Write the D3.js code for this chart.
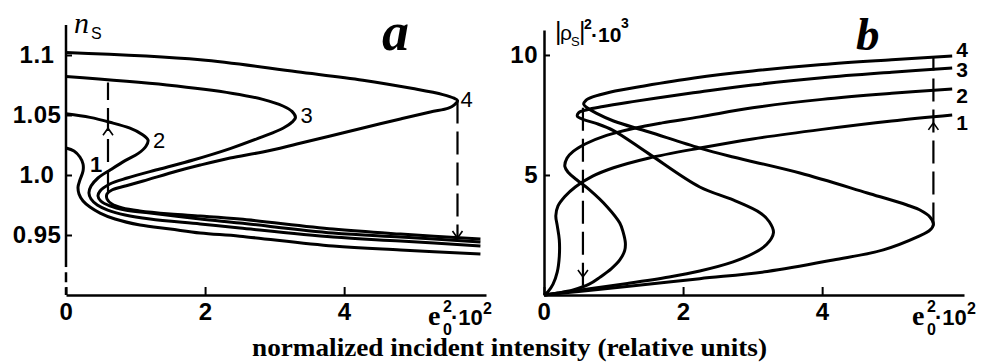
<!DOCTYPE html>
<html>
<head>
<meta charset="utf-8">
<script src="https://cdnjs.cloudflare.com/ajax/libs/d3/7.8.5/d3.min.js"></script>
<style>
body { margin: 0; background: #fff; }
svg { display: block; }
.tick text { font-family: "Liberation Sans", Arial, sans-serif; font-weight: bold; font-size: 24px; letter-spacing: 0.5px; fill: #000; }
</style>
</head>
<body>
<svg width="994" height="362"></svg>
<script>
// ---- data ----
var xTicks = [0, 2, 4];
var yTicksA = [0.95, 1.0, 1.05, 1.1];
var yTickLabelsA = ["0.95", "1.0", "1.05", "1.1"];
var yTicksB = [5, 10];
var curveNames = ["1", "2", "3", "4"];

// panel a: n_S versus e0^2*10^2, each curve traced along its S shape
var curveA1 = [[0,1.0225],[0.115,1.02],[0.2,1.015],[0.245,1.0092],[0.245,1.0033],[0.2,0.9958],[0.173,0.99],[0.187,0.9842],[0.245,0.9783],[0.345,0.9733],[0.49,0.9683],[0.705,0.9633],[1.065,0.9583],[1.5,0.955],[1.93,0.9517],[2.5,0.949],[3.84,0.9408],[4.81,0.9375],[5.96,0.9342]];
var curveA2 = [[0,1.051],[0.345,1.048],[0.63,1.044],[0.92,1.039],[1.09,1.034],[1.18,1.029],[1.15,1.024],[1.04,1.018],[0.85,1.012],[0.63,1.004],[0.46,0.9975],[0.36,0.9908],[0.33,0.985],[0.36,0.98],[0.45,0.975],[0.6,0.9708],[0.85,0.9667],[1.21,0.9633],[1.93,0.9592],[2.5,0.9558],[3.84,0.9483],[4.81,0.945],[5.96,0.9408]];
var curveA3 = [[0,1.082],[1.45,1.075],[2.4,1.068],[2.83,1.063],[3.12,1.0575],[3.25,1.053],[3.3,1.048],[3.25,1.044],[3.12,1.039],[2.83,1.032],[2.36,1.022],[1.83,1.0125],[1.35,1.005],[0.88,0.9975],[0.63,0.9925],[0.49,0.9867],[0.46,0.9825],[0.5,0.9783],[0.63,0.9742],[0.85,0.9708],[1.21,0.9683],[1.93,0.9633],[2.5,0.96],[3.84,0.9517],[4.81,0.9483],[5.96,0.9442]];
var curveA4 = [[0,1.102],[1.93,1.096],[3.32,1.086],[4.27,1.079],[4.99,1.072],[5.42,1.067],[5.58,1.064],[5.63,1.062],[5.58,1.0583],[5.5,1.0558],[5.24,1.0525],[4.81,1.0467],[4.27,1.0392],[3.8,1.0325],[3.32,1.0258],[2.83,1.0192],[2.36,1.0142],[1.93,1.0083],[1.6,1.0033],[1.11,0.995],[0.85,0.9908],[0.66,0.9875],[0.59,0.9842],[0.59,0.98],[0.66,0.9758],[0.81,0.9725],[1.06,0.97],[1.5,0.9675],[1.93,0.9658],[2.5,0.9633],[3.84,0.955],[4.81,0.9508],[5.96,0.9467]];

// panel b: |rho_S|^2*10^3 versus e0^2*10^2
var curveB1 = [[0,0],[0.06,0.15],[0.13,0.45],[0.19,0.95],[0.22,1.6],[0.22,2.3],[0.19,2.9],[0.17,3.3],[0.2,3.7],[0.3,4.1],[0.45,4.5],[0.7,4.95],[1.0,5.3],[1.5,5.7],[2.24,6.12],[3,6.5],[4,6.9],[5,7.25],[5.87,7.5]];
var curveB2 = [[0,0],[0.2,0.08],[0.42,0.21],[0.65,0.45],[0.81,0.75],[0.97,1.1],[1.09,1.46],[1.16,1.85],[1.17,2.17],[1.14,2.6],[1.09,3.0],[0.91,3.67],[0.66,4.37],[0.47,4.8],[0.35,5.1],[0.3,5.35],[0.33,5.7],[0.42,5.98],[0.6,6.3],[0.9,6.65],[1.3,6.95],[1.7,7.17],[2.24,7.42],[3,7.8],[4,8.15],[5,8.4],[5.87,8.58]];
var curveB3 = [[0,0],[0.5,0.2],[1.2,0.48],[1.8,0.75],[2.24,1.0],[2.72,1.38],[3.0,1.72],[3.2,2.1],[3.3,2.6],[3.24,3.05],[3.11,3.42],[2.72,3.96],[2.24,4.5],[1.5,5.9],[1.0,6.85],[0.75,7.15],[0.58,7.3],[0.48,7.45],[0.5,7.6],[0.62,7.72],[0.85,7.85],[1.2,8.02],[1.6,8.2],[2.24,8.46],[3,8.75],[4,9.05],[5,9.28],[5.87,9.46]];
var curveB4 = [[0,0],[0.5,0.15],[1.19,0.35],[2.24,0.68],[3.21,0.98],[4.16,1.46],[4.88,1.88],[5.37,2.42],[5.55,2.7],[5.6,2.95],[5.55,3.25],[5.4,3.55],[5.22,3.75],[4.65,4.25],[3.68,5.08],[2.72,5.75],[2.24,6.12],[1.5,6.8],[1.0,7.25],[0.75,7.58],[0.62,7.8],[0.57,7.95],[0.6,8.1],[0.7,8.25],[0.96,8.46],[1.44,8.71],[2.16,9.04],[3,9.33],[4,9.6],[5,9.8],[5.87,9.96]];

// switching jumps (dashed): x, from y, to y, arrow tip y
var jumpsA = [[0.604, 0.985, 1.077, 1.039], [5.63, 1.062, 0.947, 0.9475]];
var jumpsB = [[0.56, 7.8, 0.35, 0.75], [5.6, 2.9, 9.96, 7.17]];

// ---- drawing ----
var svg = d3.select("svg");

var xA = d3.scaleLinear().domain([0, 6.04]).range([66, 486]);
var yA = d3.scaleLinear().domain([0.9, 1.125]).range([295, 25]);
var xB = d3.scaleLinear().domain([0, 6.04]).range([544, 964]);
var yB = d3.scaleLinear().domain([0, 11.04]).range([295, 30]);

function styleAxis(g) {
    g.selectAll(".domain").attr("stroke", "#000").attr("stroke-width", 2.5);
    g.selectAll(".tick line").attr("stroke", "#000").attr("stroke-width", 2);
}

// panel a axes
var gxA = svg.append("g")
    .attr("transform", "translate(0," + yA(0.9) + ")")
    .call(d3.axisBottom(xA).tickValues(xTicks).tickSizeInner(-8).tickSizeOuter(0).tickPadding(8).tickFormat(d3.format("d")));
styleAxis(gxA);

var gyA = svg.append("g")
    .attr("transform", "translate(" + xA(0) + ",0)")
    .call(d3.axisLeft(yA).tickValues(yTicksA).tickSizeInner(-6).tickSizeOuter(0)
        .tickFormat(function(d, i) { return yTickLabelsA[i]; }));
styleAxis(gyA);
gyA.select(".domain").remove();
gyA.selectAll(".tick text").attr("x", -29).attr("text-anchor", "middle");

svg.append("line")
    .attr("x1", xA(0)).attr("x2", xA(0))
    .attr("y1", yA(1.125)).attr("y2", yA(0.9233))
    .attr("stroke", "#000").attr("stroke-width", 2.5);
svg.append("line")
    .attr("x1", xA(0)).attr("x2", xA(0))
    .attr("y1", yA(0.919)).attr("y2", yA(0.9))
    .attr("stroke", "#000").attr("stroke-width", 2.5)
    .attr("stroke-dasharray", "10,5");

// panel b axes
var gxB = svg.append("g")
    .attr("transform", "translate(0," + yB(0) + ")")
    .call(d3.axisBottom(xB).tickValues(xTicks).tickSizeInner(-8).tickSizeOuter(0).tickPadding(8).tickFormat(d3.format("d")));
styleAxis(gxB);

var gyB = svg.append("g")
    .attr("transform", "translate(" + xB(0) + ",0)")
    .call(d3.axisLeft(yB).tickValues(yTicksB).tickSizeInner(-6).tickSizeOuter(0).tickPadding(6));
styleAxis(gyB);

// curves
function drawCurves(list, xs, ys) {
    var line = d3.line()
        .curve(d3.curveCatmullRom.alpha(0.5))
        .x(function(d) { return xs(d[0]); })
        .y(function(d) { return ys(d[1]); });
    svg.append("g").selectAll("path")
        .data(list)
        .enter().append("path")
        .attr("d", line)
        .attr("fill", "none")
        .attr("stroke", "#000")
        .attr("stroke-width", 3)
        .attr("stroke-linejoin", "round");
}

var curvesA = [curveA1, curveA2, curveA3, curveA4];
var curvesB = [curveB1, curveB2, curveB3, curveB4];
drawCurves(curvesA, xA, yA);
drawCurves(curvesB, xB, yB);

// dashed jump lines with small open arrowheads
function drawJumps(list, xs, ys) {
    list.forEach(function(j) {
        var x = xs(j[0]);
        svg.append("line")
            .attr("x1", x).attr("x2", x)
            .attr("y1", ys(j[1])).attr("y2", ys(j[2]))
            .attr("stroke", "#000").attr("stroke-width", 2.2)
            .attr("stroke-dasharray", "23,8");
        var tip = ys(j[3]);
        var dir = j[2] > j[1] ? 1 : -1;
        svg.append("polyline")
            .attr("points", [[x - 5, tip + dir * 7], [x, tip], [x + 5, tip + dir * 7]].join(" "))
            .attr("fill", "none").attr("stroke", "#000").attr("stroke-width", 1.6);
    });
}
drawJumps(jumpsA, xA, yA);
drawJumps(jumpsB, xB, yB);

// curve numbers, panel a: next to the first right-hand turn of each curve
var offA = [[7, 1], [5, 8], [5, 6], [3, 6]];
curvesA.forEach(function(c, i) {
    var k = 0;
    while (k < c.length - 1 && c[k + 1][0] >= c[k][0]) k++;
    svg.append("text")
        .attr("x", xA(c[k][0]) + offA[i][0])
        .attr("y", yA(c[k][1]) + offA[i][1])
        .style("font-family", "Liberation Sans, Arial, sans-serif")
        .style("font-size", "22px")
        .style("font-weight", i == 0 ? "bold" : "normal")
        .text(curveNames[i]);
});

// curve numbers, panel b: at the right end
var offB = [15, 14, 9, 1];
curvesB.forEach(function(c, i) {
    var p = c[c.length - 1];
    svg.append("text")
        .attr("x", xB(p[0]) + 4)
        .attr("y", yB(p[1]) + offB[i])
        .style("font-family", "Liberation Sans, Arial, sans-serif")
        .style("font-size", "21px")
        .style("font-weight", "bold")
        .text(curveNames[i]);
});

// axis titles
function txt(x, y, s, fam, size, weight, styl) {
    return svg.append("text")
        .attr("x", x).attr("y", y)
        .style("font-family", fam)
        .style("font-size", size + "px")
        .style("font-weight", weight || "normal")
        .style("font-style", styl || "normal")
        .text(s);
}
var SANS = "Liberation Sans, Arial, sans-serif";
var SERIF = "Liberation Serif, Times New Roman, serif";

// n_S
txt(74, 33, "n", SERIF, 30, "normal", "italic");
txt(91, 39, "S", SANS, 16);

// |rho_S|^2 * 10^3
txt(555, 40, "|", SANS, 25);
txt(560, 40, "\u03c1", SANS, 21);
txt(571, 46, "S", SANS, 13);
txt(579, 40, "|", SANS, 25);
txt(584, 29, "2", SANS, 14, "bold");
txt(591, 42, "\u00b710", SANS, 21, "bold");
txt(621, 28, "3", SANS, 14, "bold");

// e0^2 * 10^2 under each x axis
function unitLabel(x0) {
    txt(x0, 325, "e", SERIF, 28, "bold");
    txt(x0 + 15, 335, "0", SANS, 16, "bold");
    txt(x0 + 15, 312, "2", SANS, 16, "bold");
    txt(x0 + 23, 325, "\u00b710", SANS, 22, "bold");
    txt(x0 + 55, 314, "2", SANS, 16, "bold");
}
unitLabel(428);
unitLabel(912);

// panel letters
txt(382, 50, "a", SERIF, 54, "bold", "italic");
txt(856, 50, "b", SERIF, 47, "bold", "italic");

// common x title
txt(252, 356, "normalized incident intensity (relative units)", SERIF, 25, "bold")
    .attr("textLength", 515)
    .attr("lengthAdjust", "spacingAndGlyphs");
</script>
</body>
</html>
